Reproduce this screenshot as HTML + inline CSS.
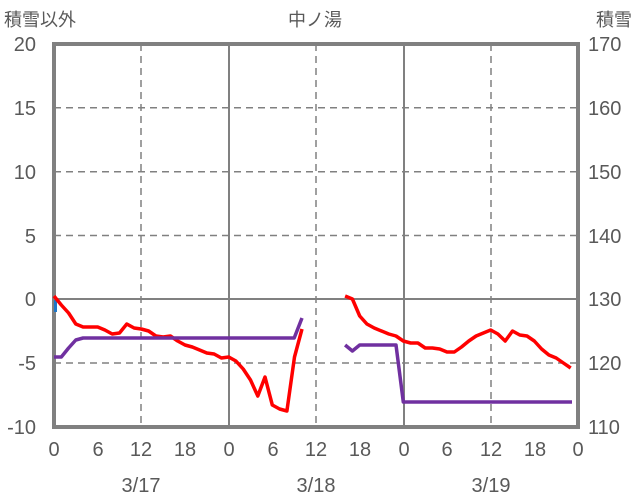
<!DOCTYPE html>
<html><head><meta charset="utf-8"><style>
body{margin:0;background:#fff;}
svg{display:block;font-family:"Liberation Sans","Noto Sans CJK JP",sans-serif;}
</style></head><body>
<svg width="636" height="501" viewBox="0 0 636 501" xmlns="http://www.w3.org/2000/svg">
<g fill="#595959" font-size="20">
<text x="4" y="26" font-size="18">積雪以外</text>
<text x="315" y="26" font-size="18" text-anchor="middle">中ノ湯</text>
<text x="632" y="26" font-size="18" text-anchor="end">積雪</text>
<g text-anchor="end">
<text x="36" y="51">20</text><text x="36" y="115">15</text><text x="36" y="179">10</text>
<text x="36" y="243">5</text><text x="36" y="306">0</text><text x="36" y="370">-5</text><text x="36" y="434">-10</text>
</g>
<g text-anchor="start">
<text x="588" y="51">170</text><text x="588" y="115">160</text><text x="588" y="179">150</text>
<text x="588" y="243">140</text><text x="588" y="306">130</text><text x="588" y="370">120</text><text x="588" y="434">110</text>
</g>
<g text-anchor="middle">
<text x="54" y="456">0</text><text x="98" y="456">6</text><text x="141" y="456">12</text><text x="185" y="456">18</text>
<text x="229" y="456">0</text><text x="273" y="456">6</text><text x="316" y="456">12</text><text x="360" y="456">18</text>
<text x="404" y="456">0</text><text x="447" y="456">6</text><text x="491" y="456">12</text><text x="535" y="456">18</text><text x="578" y="456">0</text>
<text x="141" y="492">3/17</text><text x="316" y="492">3/18</text><text x="491" y="492">3/19</text>
</g>
</g>
<g stroke="#808080" stroke-width="1.5" stroke-dasharray="7,5" fill="none">
<line x1="141" y1="44" x2="141" y2="427"/><line x1="316" y1="44" x2="316" y2="427"/><line x1="491" y1="44" x2="491" y2="427"/>
<line x1="54" y1="107.8" x2="578" y2="107.8"/><line x1="54" y1="171.7" x2="578" y2="171.7"/><line x1="54" y1="235.5" x2="578" y2="235.5"/><line x1="54" y1="363" x2="578" y2="363"/>
</g>
<g stroke="#808080" stroke-width="2" fill="none">
<line x1="229" y1="44" x2="229" y2="427"/><line x1="404" y1="44" x2="404" y2="427"/>
<line x1="54" y1="299" x2="578" y2="299"/>
</g>
<rect x="54" y="44" width="524" height="383" fill="none" stroke="#808080" stroke-width="4"/>
<line x1="55.5" y1="300" x2="55.5" y2="312" stroke="#1f77c8" stroke-width="3"/>
<g fill="none" stroke-width="3.5" stroke-linejoin="round">
<polyline stroke="#ff0000" points="54,296 61.3,305 68.6,313 75.8,324 83.1,327 90.4,327 97.7,327 104.9,330 112.2,334 119.5,333 126.8,324 134.1,328 141.3,329 148.6,331 155.9,336 163.2,337 170.4,336 177.7,341 185,345 192.3,347 199.6,350 206.8,353 214.1,354 221.4,358 228.7,357 235.9,361 243.2,369 250.5,380 257.8,396 265,377 272.3,405 279.6,409 286.9,411 294.5,357 302,329"/>
<polyline stroke="#7030a0" points="54,357 61.3,357 68.6,348 75.8,340 83.1,338 294.2,338 302,318"/>
<polyline stroke="#ff0000" points="345.1,296 352.4,299 359.7,316 366.9,324 374.2,328 381.5,331 388.8,334 396,336 403.3,341 410.6,343 417.9,343 425.2,348 432.4,348 439.7,349 447,352 454.3,352 461.5,347 468.8,341 476.1,336 483.4,333 490.7,330 497.9,334 505.2,341 512.5,331 519.8,335 527,336 534.3,341 541.6,349 548.9,355 556.2,358 563.4,363 570.7,368"/>
<polyline stroke="#7030a0" points="345.1,345 352.4,351 359.7,345 396,345 403.3,402 572,402"/>
</g>
</svg>
</body></html>
